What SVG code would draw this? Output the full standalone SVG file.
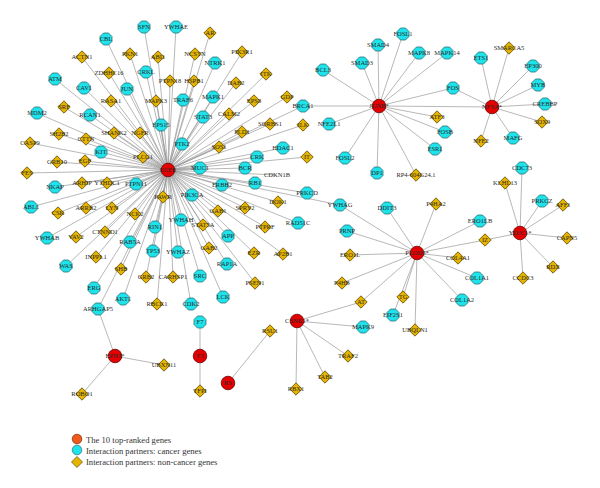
<svg xmlns="http://www.w3.org/2000/svg" xmlns:xlink="http://www.w3.org/1999/xlink" width="600" height="488" viewBox="0 0 600 488">
<style>
text{font-family:"Liberation Serif","Times New Roman",serif;font-size:6.5px;fill:#2a2a2a;text-anchor:middle}
.lg{font-size:8.6px;text-anchor:start;fill:#333}
#edges line{stroke:#9a9a9a;stroke-width:0.7}
</style>
<defs>
<polygon id="o" points="6,2.5 2.5,6 -2.5,6 -6,2.5 -6,-2.5 -2.5,-6 2.5,-6 6,-2.5" fill="#1fe3ea" stroke="#2b6e74" stroke-width="0.8"/>
<polygon id="d" points="0,-6.2 6.2,0 0,6.2 -6.2,0" fill="#e6b400" stroke="#5a4700" stroke-width="0.8"/>
<circle id="r" r="6.8" fill="#e20000" stroke="#6a0000" stroke-width="0.8"/>
</defs>
<rect width="600" height="488" fill="#fff"/>
<g id="edges">
<line x1="168" y1="170" x2="144" y2="27"/><line x1="168" y1="170" x2="176" y2="27"/><line x1="168" y1="170" x2="210" y2="33"/><line x1="168" y1="170" x2="106" y2="39"/><line x1="168" y1="170" x2="242" y2="52"/><line x1="168" y1="170" x2="130" y2="54"/><line x1="168" y1="170" x2="82" y2="57"/><line x1="168" y1="170" x2="158" y2="57"/><line x1="168" y1="170" x2="195" y2="54"/><line x1="168" y1="170" x2="215" y2="63"/><line x1="168" y1="170" x2="109" y2="73"/><line x1="168" y1="170" x2="146" y2="72"/><line x1="168" y1="170" x2="266" y2="74"/><line x1="168" y1="170" x2="55" y2="79"/><line x1="168" y1="170" x2="170" y2="81"/><line x1="168" y1="170" x2="194" y2="81"/><line x1="168" y1="170" x2="236" y2="83"/><line x1="168" y1="170" x2="84" y2="88"/><line x1="168" y1="170" x2="127" y2="89"/><line x1="168" y1="170" x2="213" y2="97"/><line x1="168" y1="170" x2="183" y2="100"/><line x1="168" y1="170" x2="156" y2="101"/><line x1="168" y1="170" x2="111" y2="101"/><line x1="168" y1="170" x2="254" y2="101"/><line x1="168" y1="170" x2="287" y2="97"/><line x1="168" y1="170" x2="64" y2="107"/><line x1="168" y1="170" x2="37" y2="113"/><line x1="168" y1="170" x2="90" y2="115"/><line x1="168" y1="170" x2="303" y2="106"/><line x1="168" y1="170" x2="203" y2="117"/><line x1="168" y1="170" x2="229" y2="114"/><line x1="168" y1="170" x2="161" y2="125"/><line x1="168" y1="170" x2="270" y2="124"/><line x1="168" y1="170" x2="303" y2="125"/><line x1="168" y1="170" x2="242" y2="132"/><line x1="168" y1="170" x2="59" y2="134"/><line x1="168" y1="170" x2="114" y2="133"/><line x1="168" y1="170" x2="140" y2="133"/><line x1="168" y1="170" x2="86" y2="139"/><line x1="168" y1="170" x2="30" y2="143"/><line x1="168" y1="170" x2="101" y2="152"/><line x1="168" y1="170" x2="182" y2="144"/><line x1="168" y1="170" x2="219" y2="147"/><line x1="168" y1="170" x2="283" y2="148"/><line x1="168" y1="170" x2="57" y2="162"/><line x1="168" y1="170" x2="85" y2="161"/><line x1="168" y1="170" x2="143" y2="157"/><line x1="168" y1="170" x2="257" y2="157"/><line x1="168" y1="170" x2="307" y2="157"/><line x1="168" y1="170" x2="27" y2="173"/><line x1="168" y1="170" x2="200" y2="168"/><line x1="168" y1="170" x2="245" y2="168"/><line x1="168" y1="170" x2="277" y2="175"/><line x1="168" y1="170" x2="255" y2="183"/><line x1="168" y1="170" x2="55" y2="187"/><line x1="168" y1="170" x2="82" y2="183"/><line x1="168" y1="170" x2="107" y2="183"/><line x1="168" y1="170" x2="136" y2="184"/><line x1="168" y1="170" x2="222" y2="185"/><line x1="168" y1="170" x2="192" y2="195"/><line x1="168" y1="170" x2="307" y2="193"/><line x1="168" y1="170" x2="163" y2="197"/><line x1="168" y1="170" x2="31" y2="207"/><line x1="168" y1="170" x2="58" y2="213"/><line x1="168" y1="170" x2="86" y2="208"/><line x1="168" y1="170" x2="112" y2="208"/><line x1="168" y1="170" x2="135" y2="214"/><line x1="168" y1="170" x2="181" y2="220"/><line x1="168" y1="170" x2="218" y2="211"/><line x1="168" y1="170" x2="245" y2="208"/><line x1="168" y1="170" x2="278" y2="202"/><line x1="168" y1="170" x2="340" y2="205"/><line x1="168" y1="170" x2="155" y2="227"/><line x1="168" y1="170" x2="203" y2="225"/><line x1="168" y1="170" x2="228" y2="236"/><line x1="168" y1="170" x2="265" y2="227"/><line x1="168" y1="170" x2="298" y2="223"/><line x1="168" y1="170" x2="47" y2="238"/><line x1="168" y1="170" x2="76" y2="237"/><line x1="168" y1="170" x2="105" y2="232"/><line x1="168" y1="170" x2="130" y2="242"/><line x1="168" y1="170" x2="153" y2="251"/><line x1="168" y1="170" x2="178" y2="252"/><line x1="168" y1="170" x2="209" y2="248"/><line x1="168" y1="170" x2="254" y2="253"/><line x1="168" y1="170" x2="283" y2="254"/><line x1="168" y1="170" x2="227" y2="264"/><line x1="168" y1="170" x2="66" y2="266"/><line x1="168" y1="170" x2="96" y2="257"/><line x1="168" y1="170" x2="121" y2="269"/><line x1="168" y1="170" x2="146" y2="277"/><line x1="168" y1="170" x2="173" y2="277"/><line x1="168" y1="170" x2="200" y2="276"/><line x1="168" y1="170" x2="255" y2="283"/><line x1="168" y1="170" x2="94" y2="288"/><line x1="168" y1="170" x2="123" y2="299"/><line x1="168" y1="170" x2="223" y2="297"/><line x1="168" y1="170" x2="157" y2="304"/><line x1="168" y1="170" x2="191" y2="304"/><line x1="168" y1="170" x2="98" y2="309"/>
<line x1="379" y1="106" x2="323" y2="70"/><line x1="379" y1="106" x2="362" y2="63"/><line x1="379" y1="106" x2="378" y2="45"/><line x1="379" y1="106" x2="403" y2="34"/><line x1="379" y1="106" x2="419" y2="53"/><line x1="379" y1="106" x2="447" y2="53"/><line x1="379" y1="106" x2="453" y2="88"/><line x1="379" y1="106" x2="492" y2="107"/><line x1="379" y1="106" x2="437" y2="117"/><line x1="379" y1="106" x2="445" y2="132"/><line x1="379" y1="106" x2="435" y2="149"/><line x1="379" y1="106" x2="416" y2="175"/><line x1="379" y1="106" x2="377" y2="173"/><line x1="379" y1="106" x2="345" y2="158"/><line x1="379" y1="106" x2="329" y2="124"/><line x1="379" y1="106" x2="303" y2="106"/>
<line x1="492" y1="107" x2="481" y2="58"/><line x1="492" y1="107" x2="509" y2="48"/><line x1="492" y1="107" x2="533" y2="66"/><line x1="492" y1="107" x2="538" y2="85"/><line x1="492" y1="107" x2="545" y2="104"/><line x1="492" y1="107" x2="542" y2="122"/><line x1="492" y1="107" x2="513" y2="138"/><line x1="492" y1="107" x2="481" y2="141"/><line x1="492" y1="107" x2="453" y2="88"/>
<line x1="417" y1="253" x2="340" y2="205"/><line x1="417" y1="253" x2="387" y2="208"/><line x1="417" y1="253" x2="436" y2="204"/><line x1="417" y1="253" x2="347" y2="231"/><line x1="417" y1="253" x2="350" y2="255"/><line x1="417" y1="253" x2="342" y2="283"/><line x1="417" y1="253" x2="480" y2="221"/><line x1="417" y1="253" x2="485" y2="240"/><line x1="417" y1="253" x2="458" y2="258"/><line x1="417" y1="253" x2="477" y2="278"/><line x1="417" y1="253" x2="462" y2="300"/><line x1="417" y1="253" x2="415" y2="330"/><line x1="417" y1="253" x2="403" y2="297"/><line x1="417" y1="253" x2="393" y2="315"/><line x1="417" y1="253" x2="361" y2="302"/>
<line x1="520" y1="233" x2="522" y2="168"/><line x1="520" y1="233" x2="505" y2="183"/><line x1="520" y1="233" x2="542" y2="201"/><line x1="520" y1="233" x2="563" y2="205"/><line x1="520" y1="233" x2="567" y2="238"/><line x1="520" y1="233" x2="553" y2="267"/><line x1="520" y1="233" x2="523" y2="278"/><line x1="520" y1="233" x2="485" y2="240"/>
<line x1="297" y1="321" x2="361" y2="302"/><line x1="297" y1="321" x2="363" y2="327"/><line x1="297" y1="321" x2="348" y2="356"/><line x1="297" y1="321" x2="325" y2="377"/><line x1="297" y1="321" x2="296" y2="389"/>
<line x1="115" y1="356" x2="98" y2="309"/><line x1="115" y1="356" x2="164" y2="365"/><line x1="115" y1="356" x2="82" y2="394"/>
<line x1="200" y1="356" x2="200" y2="322"/><line x1="200" y1="356" x2="200" y2="391"/>
<line x1="228" y1="383" x2="270" y2="331"/>
</g>
<g id="nodes">
<g id="n-SFN" transform="translate(144,27)"><use href="#o"/><text y="2.2">SFN</text></g>
<g id="n-YWHAE" transform="translate(176,27)"><use href="#o"/><text y="2.2">YWHAE</text></g>
<g id="n-AR" transform="translate(210,33)"><use href="#d"/><text y="2.2">AR</text></g>
<g id="n-CBL" transform="translate(106,39)"><use href="#o"/><text y="2.2">CBL</text></g>
<g id="n-PIK3R1" transform="translate(242,52)"><use href="#d"/><text y="2.2">PIK3R1</text></g>
<g id="n-PKN1" transform="translate(130,54)"><use href="#d"/><text y="2.2">PKN1</text></g>
<g id="n-ACTN1" transform="translate(82,57)"><use href="#d"/><text y="2.2">ACTN1</text></g>
<g id="n-ABI1" transform="translate(158,57)"><use href="#d"/><text y="2.2">ABI1</text></g>
<g id="n-NCSTN" transform="translate(195,54)"><use href="#d"/><text y="2.2">NCSTN</text></g>
<g id="n-NTRK1" transform="translate(215,63)"><use href="#o"/><text y="2.2">NTRK1</text></g>
<g id="n-ZDHHC16" transform="translate(109,73)"><use href="#d"/><text y="2.2">ZDHHC16</text></g>
<g id="n-CRKL" transform="translate(146,72)"><use href="#o"/><text y="2.2">CRKL</text></g>
<g id="n-ITK" transform="translate(266,74)"><use href="#d"/><text y="2.2">ITK</text></g>
<g id="n-ATM" transform="translate(55,79)"><use href="#o"/><text y="2.2">ATM</text></g>
<g id="n-PTPN18" transform="translate(170,81)"><use href="#d"/><text y="2.2">PTPN18</text></g>
<g id="n-HSPB1" transform="translate(194,81)"><use href="#d"/><text y="2.2">HSPB1</text></g>
<g id="n-DAB2" transform="translate(236,83)"><use href="#d"/><text y="2.2">DAB2</text></g>
<g id="n-CAV1" transform="translate(84,88)"><use href="#o"/><text y="2.2">CAV1</text></g>
<g id="n-JUN" transform="translate(127,89)"><use href="#o"/><text y="2.2">JUN</text></g>
<g id="n-MAPK1" transform="translate(213,97)"><use href="#o"/><text y="2.2">MAPK1</text></g>
<g id="n-TRAF6" transform="translate(183,100)"><use href="#o"/><text y="2.2">TRAF6</text></g>
<g id="n-MAPK3" transform="translate(156,101)"><use href="#d"/><text y="2.2">MAPK3</text></g>
<g id="n-RASA1" transform="translate(111,101)"><use href="#d"/><text y="2.2">RASA1</text></g>
<g id="n-EPS8" transform="translate(254,101)"><use href="#d"/><text y="2.2">EPS8</text></g>
<g id="n-GDP" transform="translate(287,97)"><use href="#d"/><text y="2.2">GDP</text></g>
<g id="n-SRF" transform="translate(64,107)"><use href="#d"/><text y="2.2">SRF</text></g>
<g id="n-MDM2" transform="translate(37,113)"><use href="#o"/><text y="2.2">MDM2</text></g>
<g id="n-RCAN1" transform="translate(90,115)"><use href="#o"/><text y="2.2">RCAN1</text></g>
<g id="n-BRCA1" transform="translate(303,106)"><use href="#o"/><text y="2.2">BRCA1</text></g>
<g id="n-STAT3" transform="translate(203,117)"><use href="#o"/><text y="2.2">STAT3</text></g>
<g id="n-CALM2" transform="translate(229,114)"><use href="#d"/><text y="2.2">CALM2</text></g>
<g id="n-EPS15" transform="translate(161,125)"><use href="#o"/><text y="2.2">EPS15</text></g>
<g id="n-SORBS1" transform="translate(270,124)"><use href="#d"/><text y="2.2">SORBS1</text></g>
<g id="n-ILK" transform="translate(303,125)"><use href="#d"/><text y="2.2">ILK</text></g>
<g id="n-PLD1" transform="translate(242,132)"><use href="#d"/><text y="2.2">PLD1</text></g>
<g id="n-SH2B2" transform="translate(59,134)"><use href="#d"/><text y="2.2">SH2B2</text></g>
<g id="n-SHANK2" transform="translate(114,133)"><use href="#d"/><text y="2.2">SHANK2</text></g>
<g id="n-NGFR" transform="translate(140,133)"><use href="#d"/><text y="2.2">NGFR</text></g>
<g id="n-CTTN" transform="translate(86,139)"><use href="#d"/><text y="2.2">CTTN</text></g>
<g id="n-CASP9" transform="translate(30,143)"><use href="#d"/><text y="2.2">CASP9</text></g>
<g id="n-KIT" transform="translate(101,152)"><use href="#o"/><text y="2.2">KIT</text></g>
<g id="n-PTK2" transform="translate(182,144)"><use href="#o"/><text y="2.2">PTK2</text></g>
<g id="n-SOS1" transform="translate(219,147)"><use href="#d"/><text y="2.2">SOS1</text></g>
<g id="n-HDAC1" transform="translate(283,148)"><use href="#o"/><text y="2.2">HDAC1</text></g>
<g id="n-GRB10" transform="translate(57,162)"><use href="#d"/><text y="2.2">GRB10</text></g>
<g id="n-EGF" transform="translate(85,161)"><use href="#d"/><text y="2.2">EGF</text></g>
<g id="n-PLCG1" transform="translate(143,157)"><use href="#d"/><text y="2.2">PLCG1</text></g>
<g id="n-CRK" transform="translate(257,157)"><use href="#o"/><text y="2.2">CRK</text></g>
<g id="n-IT" transform="translate(307,157)"><use href="#d"/><text y="2.2">IT</text></g>
<g id="n-FES" transform="translate(27,173)"><use href="#d"/><text y="2.2">FES</text></g>
<g id="n-MUC1" transform="translate(200,168)"><use href="#o"/><text y="2.2">MUC1</text></g>
<g id="n-BCR" transform="translate(245,168)"><use href="#o"/><text y="2.2">BCR</text></g>
<g id="n-CDKN1B" transform="translate(277,175)"><text y="2.2">CDKN1B</text></g>
<g id="n-RB1" transform="translate(255,183)"><use href="#o"/><text y="2.2">RB1</text></g>
<g id="n-NKAP" transform="translate(55,187)"><use href="#o"/><text y="2.2">NKAP</text></g>
<g id="n-ARHIP" transform="translate(82,183)"><use href="#d"/><text y="2.2">ARHIP</text></g>
<g id="n-YTHDC1" transform="translate(107,183)"><use href="#d"/><text y="2.2">YTHDC1</text></g>
<g id="n-PTPN11" transform="translate(136,184)"><use href="#o"/><text y="2.2">PTPN11</text></g>
<g id="n-ERBB2" transform="translate(222,185)"><use href="#o"/><text y="2.2">ERBB2</text></g>
<g id="n-PIK3CA" transform="translate(192,195)"><use href="#o"/><text y="2.2">PIK3CA</text></g>
<g id="n-PRKCD" transform="translate(307,193)"><use href="#o"/><text y="2.2">PRKCD</text></g>
<g id="n-PAWR" transform="translate(163,197)"><use href="#d"/><text y="2.2">PAWR</text></g>
<g id="n-ABL1" transform="translate(31,207)"><use href="#o"/><text y="2.2">ABL1</text></g>
<g id="n-CSK" transform="translate(58,213)"><use href="#d"/><text y="2.2">CSK</text></g>
<g id="n-ARRB2" transform="translate(86,208)"><use href="#d"/><text y="2.2">ARRB2</text></g>
<g id="n-LYN" transform="translate(112,208)"><use href="#d"/><text y="2.2">LYN</text></g>
<g id="n-NCK2" transform="translate(135,214)"><use href="#d"/><text y="2.2">NCK2</text></g>
<g id="n-YWHAH" transform="translate(181,220)"><use href="#o"/><text y="2.2">YWHAH</text></g>
<g id="n-GAB1" transform="translate(218,211)"><use href="#d"/><text y="2.2">GAB1</text></g>
<g id="n-SPRY2" transform="translate(245,208)"><use href="#d"/><text y="2.2">SPRY2</text></g>
<g id="n-DOK1" transform="translate(278,202)"><use href="#d"/><text y="2.2">DOK1</text></g>
<g id="n-YWHAG" transform="translate(340,205)"><use href="#o"/><text y="2.2">YWHAG</text></g>
<g id="n-RIN1" transform="translate(155,227)"><use href="#o"/><text y="2.2">RIN1</text></g>
<g id="n-STAT5A" transform="translate(203,225)"><use href="#d"/><text y="2.2">STAT5A</text></g>
<g id="n-APP" transform="translate(228,236)"><use href="#o"/><text y="2.2">APP</text></g>
<g id="n-PTPRF" transform="translate(265,227)"><use href="#d"/><text y="2.2">PTPRF</text></g>
<g id="n-RADC" transform="translate(298,223)"><use href="#o"/><text y="2.2">RAD51C</text></g>
<g id="n-YWHAB" transform="translate(47,238)"><use href="#o"/><text y="2.2">YWHAB</text></g>
<g id="n-VAV2" transform="translate(76,237)"><use href="#d"/><text y="2.2">VAV2</text></g>
<g id="n-CTNND1" transform="translate(105,232)"><use href="#d"/><text y="2.2">CTNND1</text></g>
<g id="n-RAB5A" transform="translate(130,242)"><use href="#o"/><text y="2.2">RAB5A</text></g>
<g id="n-TP53" transform="translate(153,251)"><use href="#o"/><text y="2.2">TP53</text></g>
<g id="n-YWHAZ" transform="translate(178,252)"><use href="#o"/><text y="2.2">YWHAZ</text></g>
<g id="n-GAB2" transform="translate(209,248)"><use href="#d"/><text y="2.2">GAB2</text></g>
<g id="n-EZR" transform="translate(254,253)"><use href="#d"/><text y="2.2">EZR</text></g>
<g id="n-AP2B1" transform="translate(283,254)"><use href="#d"/><text y="2.2">AP2B1</text></g>
<g id="n-RAP1A" transform="translate(227,264)"><use href="#o"/><text y="2.2">RAP1A</text></g>
<g id="n-WAS" transform="translate(66,266)"><use href="#o"/><text y="2.2">WAS</text></g>
<g id="n-INPPL1" transform="translate(96,257)"><use href="#d"/><text y="2.2">INPPL1</text></g>
<g id="n-SHB" transform="translate(121,269)"><use href="#d"/><text y="2.2">SHB</text></g>
<g id="n-GRB2" transform="translate(146,277)"><use href="#d"/><text y="2.2">GRB2</text></g>
<g id="n-CARHSP1" transform="translate(173,277)"><use href="#d"/><text y="2.2">CARHSP1</text></g>
<g id="n-SRC" transform="translate(200,276)"><use href="#o"/><text y="2.2">SRC</text></g>
<g id="n-PSEN1" transform="translate(255,283)"><use href="#d"/><text y="2.2">PSEN1</text></g>
<g id="n-ERG" transform="translate(94,288)"><use href="#o"/><text y="2.2">ERG</text></g>
<g id="n-AKT1" transform="translate(123,299)"><use href="#o"/><text y="2.2">AKT1</text></g>
<g id="n-LCK" transform="translate(223,297)"><use href="#o"/><text y="2.2">LCK</text></g>
<g id="n-RBCK1" transform="translate(157,304)"><use href="#d"/><text y="2.2">RBCK1</text></g>
<g id="n-CDK2" transform="translate(191,304)"><use href="#o"/><text y="2.2">CDK2</text></g>
<g id="n-ARHGAP5" transform="translate(98,309)"><use href="#o"/><text y="2.2">ARHGAP5</text></g>
<g id="n-BCL3" transform="translate(323,70)"><use href="#o"/><text y="2.2">BCL3</text></g>
<g id="n-SMAD3" transform="translate(362,63)"><use href="#o"/><text y="2.2">SMAD3</text></g>
<g id="n-SMAD4" transform="translate(378,45)"><use href="#o"/><text y="2.2">SMAD4</text></g>
<g id="n-FOSL1" transform="translate(403,34)"><use href="#o"/><text y="2.2">FOSL1</text></g>
<g id="n-MAPK8" transform="translate(419,53)"><use href="#o"/><text y="2.2">MAPK8</text></g>
<g id="n-MAPK14" transform="translate(447,53)"><use href="#o"/><text y="2.2">MAPK14</text></g>
<g id="n-FOS" transform="translate(453,88)"><use href="#o"/><text y="2.2">FOS</text></g>
<g id="n-ATF3" transform="translate(437,117)"><use href="#d"/><text y="2.2">ATF3</text></g>
<g id="n-FOSB" transform="translate(445,132)"><use href="#o"/><text y="2.2">FOSB</text></g>
<g id="n-ESR1" transform="translate(435,149)"><use href="#o"/><text y="2.2">ESR1</text></g>
<g id="n-RP4" transform="translate(416,175)"><use href="#d"/><text y="2.2">RP4-604G24.1</text></g>
<g id="n-DP1" transform="translate(377,173)"><use href="#o"/><text y="2.2">DP1</text></g>
<g id="n-FOSL2" transform="translate(345,158)"><use href="#o"/><text y="2.2">FOSL2</text></g>
<g id="n-NFE2L1" transform="translate(329,124)"><use href="#o"/><text y="2.2">NFE2L1</text></g>
<g id="n-ETS1" transform="translate(481,58)"><use href="#o"/><text y="2.2">ETS1</text></g>
<g id="n-SMARCA5" transform="translate(509,48)"><use href="#d"/><text y="2.2">SMARCA5</text></g>
<g id="n-EP300" transform="translate(533,66)"><use href="#o"/><text y="2.2">EP300</text></g>
<g id="n-MYB" transform="translate(538,85)"><use href="#o"/><text y="2.2">MYB</text></g>
<g id="n-CREBBP" transform="translate(545,104)"><use href="#o"/><text y="2.2">CREBBP</text></g>
<g id="n-SOX9" transform="translate(542,122)"><use href="#d"/><text y="2.2">SOX9</text></g>
<g id="n-MAFG" transform="translate(513,138)"><use href="#o"/><text y="2.2">MAFG</text></g>
<g id="n-NFE2" transform="translate(481,141)"><use href="#d"/><text y="2.2">NFE2</text></g>
<g id="n-DDIT3" transform="translate(387,208)"><use href="#o"/><text y="2.2">DDIT3</text></g>
<g id="n-P4HA2" transform="translate(436,204)"><use href="#d"/><text y="2.2">P4HA2</text></g>
<g id="n-PRNP" transform="translate(347,231)"><use href="#o"/><text y="2.2">PRNP</text></g>
<g id="n-ERO1L" transform="translate(350,255)"><use href="#d"/><text y="2.2">ERO1L</text></g>
<g id="n-P4HB" transform="translate(342,283)"><use href="#d"/><text y="2.2">P4HB</text></g>
<g id="n-ERO1LB" transform="translate(480,221)"><use href="#o"/><text y="2.2">ERO1LB</text></g>
<g id="n-IZ" transform="translate(485,240)"><use href="#d"/><text y="2.2">IZ</text></g>
<g id="n-COL4A1" transform="translate(458,258)"><use href="#d"/><text y="2.2">COL4A1</text></g>
<g id="n-COL1A1" transform="translate(477,278)"><use href="#o"/><text y="2.2">COL1A1</text></g>
<g id="n-COL1A2" transform="translate(462,300)"><use href="#o"/><text y="2.2">COL1A2</text></g>
<g id="n-UBQLN1" transform="translate(415,330)"><use href="#d"/><text y="2.2">UBQLN1</text></g>
<g id="n-TG" transform="translate(403,297)"><use href="#d"/><text y="2.2">TG</text></g>
<g id="n-EIF2S1" transform="translate(393,315)"><use href="#o"/><text y="2.2">EIF2S1</text></g>
<g id="n-AT" transform="translate(361,302)"><use href="#d"/><text y="2.2">AT</text></g>
<g id="n-CDC73" transform="translate(522,168)"><use href="#o"/><text y="2.2">CDC73</text></g>
<g id="n-KLHL13" transform="translate(505,183)"><use href="#d"/><text y="2.2">KLHL13</text></g>
<g id="n-PRKCZ" transform="translate(542,201)"><use href="#o"/><text y="2.2">PRKCZ</text></g>
<g id="n-AFF1" transform="translate(563,205)"><use href="#d"/><text y="2.2">AFF1</text></g>
<g id="n-CAPN5" transform="translate(567,238)"><use href="#d"/><text y="2.2">CAPN5</text></g>
<g id="n-RDX" transform="translate(553,267)"><use href="#d"/><text y="2.2">RDX</text></g>
<g id="n-CCDC3" transform="translate(523,278)"><use href="#d"/><text y="2.2">CCDC3</text></g>
<g id="n-MAPK9" transform="translate(363,327)"><use href="#o"/><text y="2.2">MAPK9</text></g>
<g id="n-TRAF2" transform="translate(348,356)"><use href="#d"/><text y="2.2">TRAF2</text></g>
<g id="n-TAB2" transform="translate(325,377)"><use href="#d"/><text y="2.2">TAB2</text></g>
<g id="n-RBX1" transform="translate(296,389)"><use href="#d"/><text y="2.2">RBX1</text></g>
<g id="n-UBXN11" transform="translate(164,365)"><use href="#d"/><text y="2.2">UBXN11</text></g>
<g id="n-ROBO1" transform="translate(82,394)"><use href="#d"/><text y="2.2">ROBO1</text></g>
<g id="n-F7" transform="translate(200,322)"><use href="#o"/><text y="2.2">F7</text></g>
<g id="n-TFPI" transform="translate(200,391)"><use href="#d"/><text y="2.2">TFPI</text></g>
<g id="n-RSU1" transform="translate(270,331)"><use href="#d"/><text y="2.2">RSU1</text></g>
<g id="h-EGFR" transform="translate(168,170)"><use href="#r"/><text y="2.2">EGFR</text></g>
<g id="h-JUNB" transform="translate(379,106)"><use href="#r"/><text y="2.2">JUNB*</text></g>
<g id="h-NFYA" transform="translate(492,107)"><use href="#r"/><text y="2.2">NFYA*</text></g>
<g id="h-PLOD3" transform="translate(417,253)"><use href="#r"/><text y="2.2">PLOD3*</text></g>
<g id="h-YDJC" transform="translate(520,233)"><use href="#r"/><text y="2.2">YDJC1*</text></g>
<g id="h-CSNK1" transform="translate(297,321)"><use href="#r"/><text y="2.2">CSNK1*</text></g>
<g id="h-EPN3" transform="translate(115,356)"><use href="#r"/><text y="2.2">EPN3*</text></g>
<g id="h-F3" transform="translate(200,356)"><use href="#r"/><text y="2.2">F3</text></g>
<g id="h-R9" transform="translate(228,383)"><use href="#r"/><text y="2.2">RS</text></g>
</g>
<g id="legend">
<circle cx="77" cy="439" r="4.8" fill="#f05a1a" stroke="#7a2a00" stroke-width="0.7"/>
<text class="lg" x="86" y="442.5">The 10 top-ranked genes</text>
<circle cx="77" cy="450" r="4.8" fill="#1fe3ea" stroke="#2b6e74" stroke-width="0.7"/>
<text class="lg" x="86" y="453.5">Interaction partners: cancer genes</text>
<polygon points="77,456.5 82.5,462 77,467.5 71.5,462" fill="#e6b400" stroke="#5a4700" stroke-width="0.7"/>
<text class="lg" x="86" y="465">Interaction partners: non-cancer genes</text>
</g>
</svg>
